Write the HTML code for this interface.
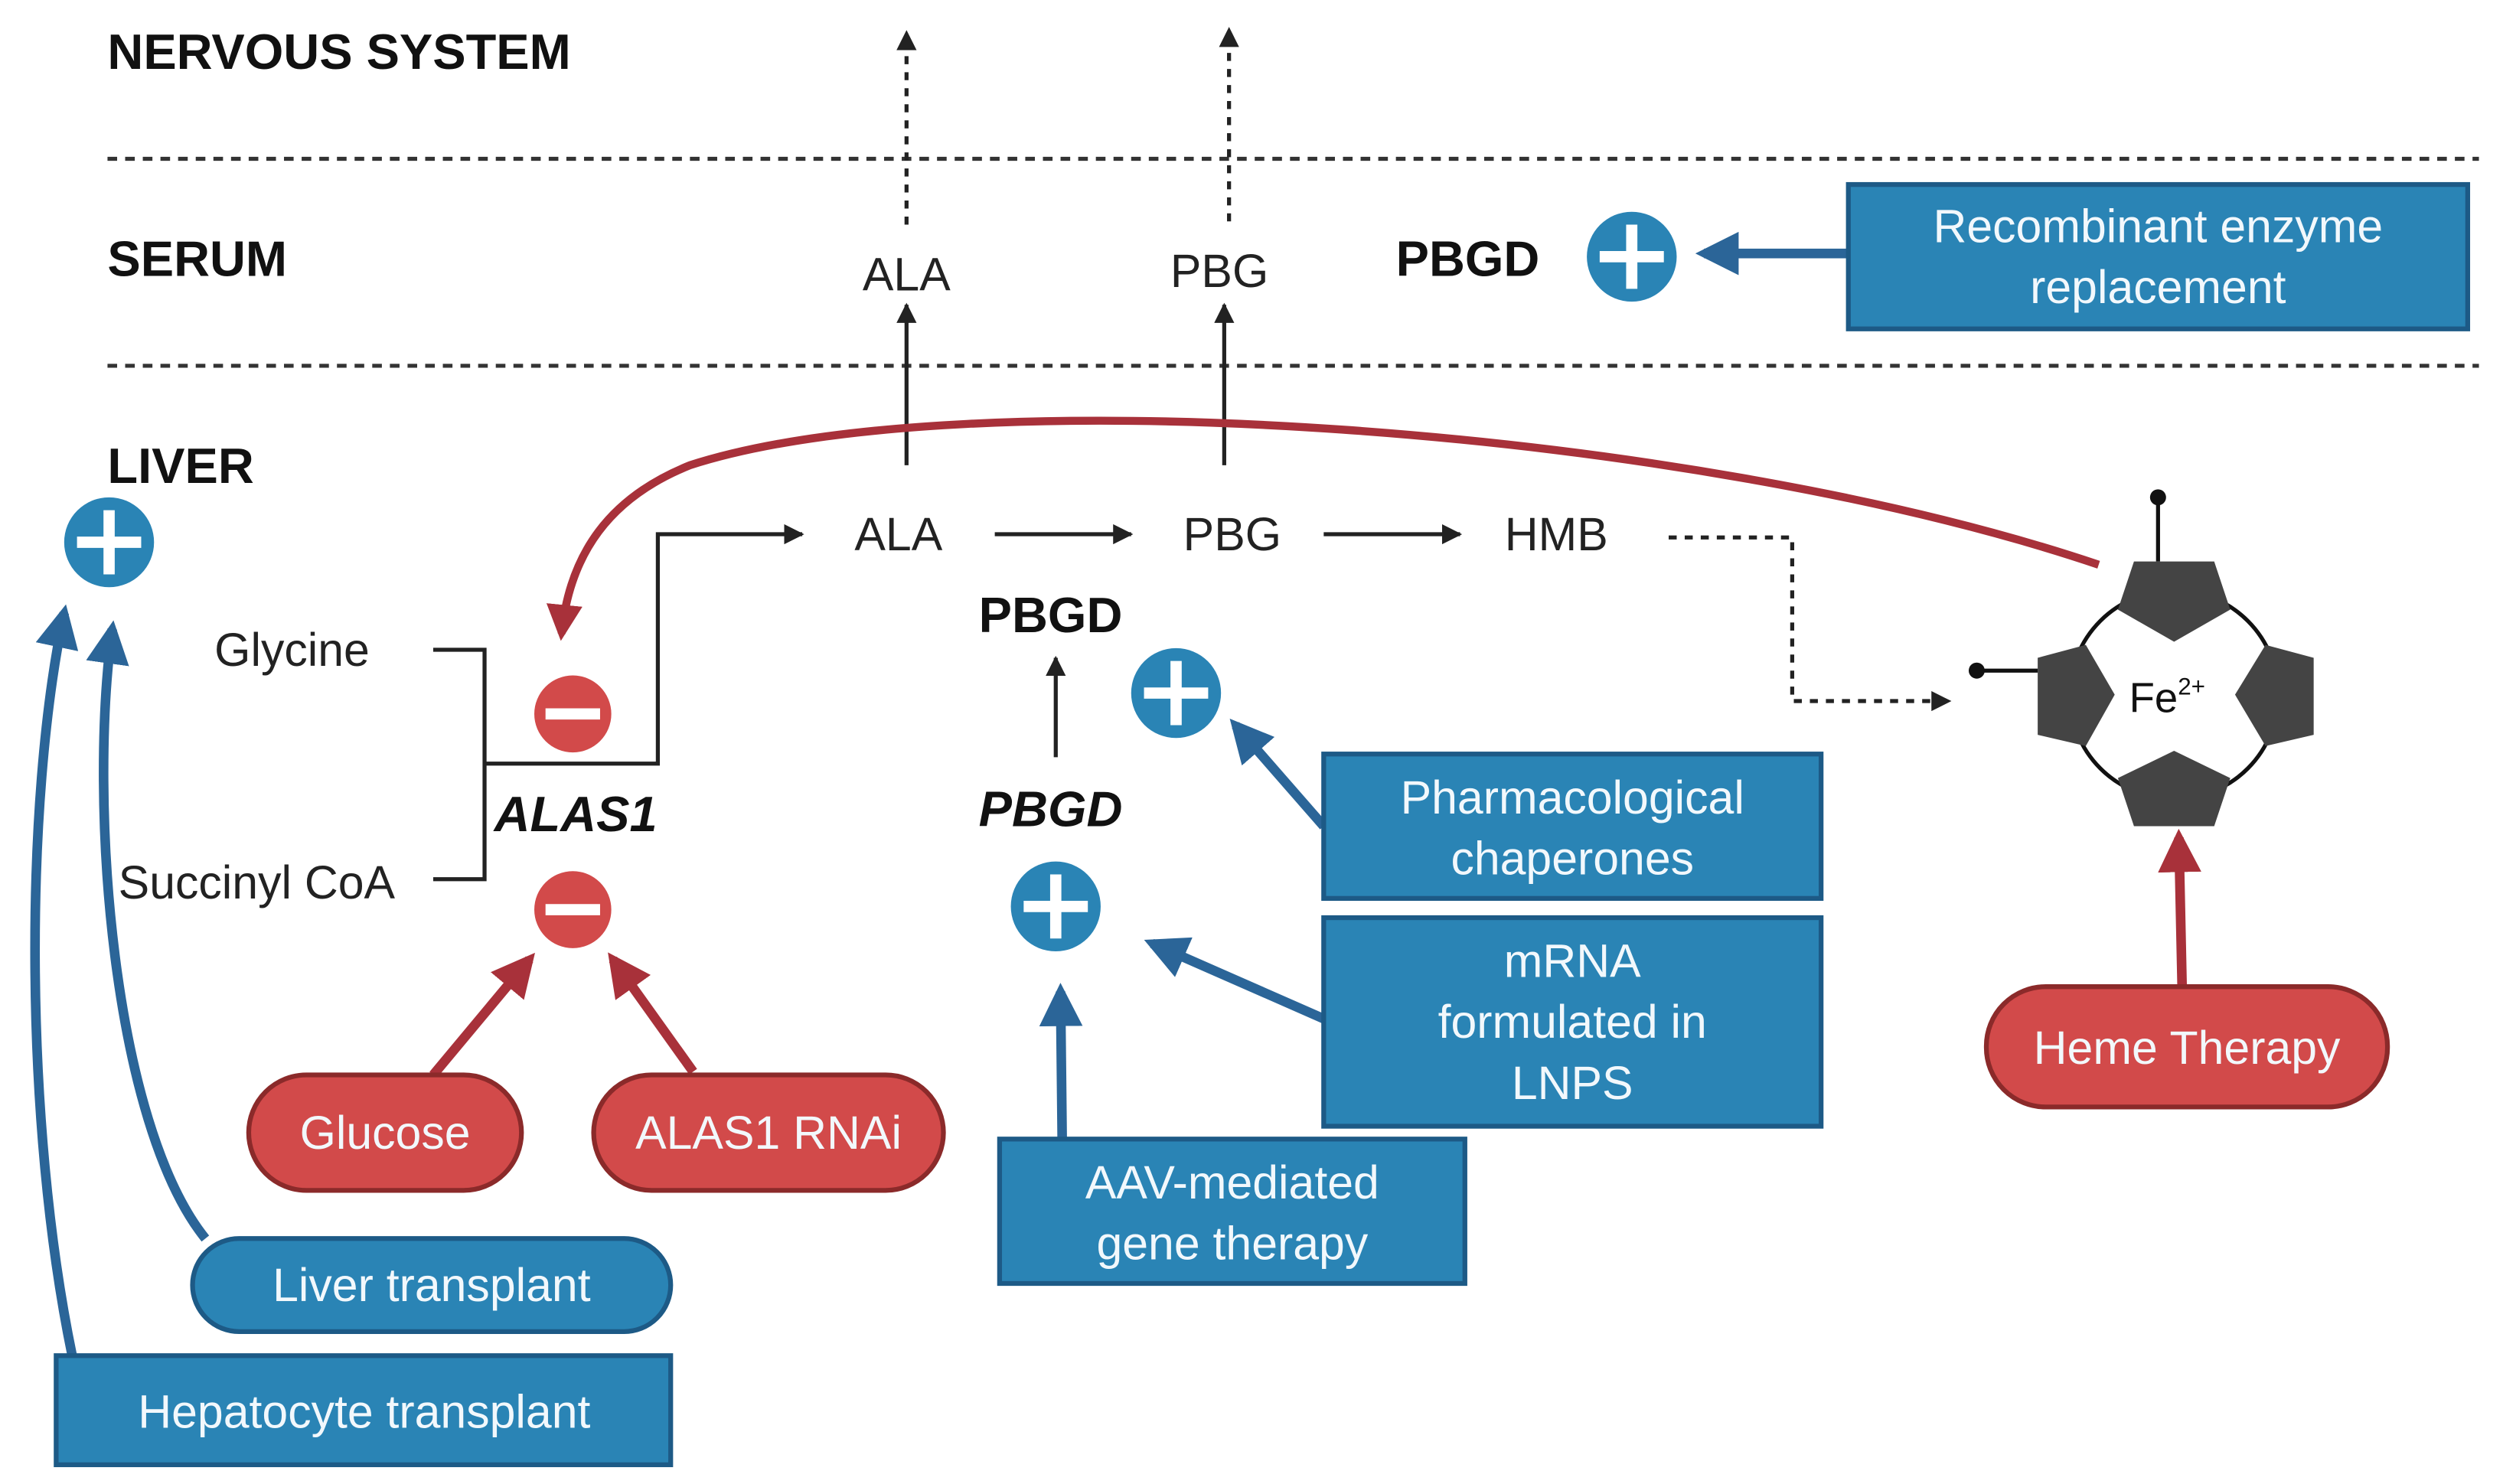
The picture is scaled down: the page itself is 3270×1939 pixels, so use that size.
<!DOCTYPE html>
<html><head><meta charset="utf-8"><style>
html,body{margin:0;padding:0;background:#fff;}
svg{display:block;}
text{font-family:"Liberation Sans",sans-serif;}
</style></head><body>
<svg width="3270" height="1939" viewBox="0 0 1560 925" preserveAspectRatio="none" xmlns="http://www.w3.org/2000/svg">
<defs>
<marker id="ak" viewBox="0 0 10 10" refX="9" refY="5" markerWidth="5" markerHeight="5" orient="auto"><path d="M0,0L10,5L0,10z" fill="#222"/></marker>
<marker id="ab" viewBox="0 0 10 10" refX="8" refY="5" markerWidth="4.5" markerHeight="4.5" orient="auto"><path d="M0,0L10,5L0,10z" fill="#2b6598"/></marker>
<marker id="ar" viewBox="0 0 10 10" refX="8" refY="5" markerWidth="4.5" markerHeight="4.5" orient="auto"><path d="M0,0L10,5L0,10z" fill="#a8313a"/></marker>
</defs>
<rect width="1560" height="925" fill="#fff"/>
<g font-weight="bold" font-size="31" fill="#111">
<text x="67" y="43">NERVOUS SYSTEM</text>
<text x="67" y="172">SERUM</text>
<text x="67" y="301">LIVER</text>
<text x="870" y="172">PBGD</text>
<text x="610" y="394">PBGD</text>
<text x="610" y="515" font-style="italic">PBGD</text>
<text x="308" y="518" font-style="italic">ALAS1</text>
</g>
<g stroke="#333" stroke-width="2.5" stroke-dasharray="6,5"><line x1="67" y1="99" x2="1545" y2="99"/><line x1="67" y1="228" x2="1545" y2="228"/></g>
<g font-size="29" fill="#222" text-anchor="middle">
<text x="565" y="181">ALA</text><text x="760" y="179">PBG</text>
<text x="560" y="343">ALA</text><text x="768" y="343">PBG</text><text x="970" y="343">HMB</text>
<text x="182" y="415">Glycine</text><text x="160" y="560">Succinyl CoA</text>
</g>
<g stroke="#222" stroke-width="2.5" fill="none">
<line x1="565" y1="140" x2="565" y2="20" stroke-dasharray="5,5" marker-end="url(#ak)"/>
<line x1="766" y1="138" x2="766" y2="18" stroke-dasharray="5,5" marker-end="url(#ak)"/>
<line x1="565" y1="290" x2="565" y2="190" marker-end="url(#ak)"/>
<line x1="763" y1="290" x2="763" y2="190" marker-end="url(#ak)"/>
<path d="M270,405H302V548H270M302,476H410V333H500" marker-end="url(#ak)"/>
<line x1="620" y1="333" x2="705" y2="333" marker-end="url(#ak)"/>
<line x1="825" y1="333" x2="910" y2="333" marker-end="url(#ak)"/>
<path d="M1040,335H1117V437H1215" stroke-dasharray="5,5" marker-end="url(#ak)"/>
<line x1="658" y1="472" x2="658" y2="410" marker-end="url(#ak)"/>
</g>
<path d="M1308,352 C1050,265 600,235 430,290 C380,310 355,345 350,395" stroke="#a8313a" stroke-width="5" fill="none" marker-end="url(#ar)"/>
<g>
<circle cx="1355" cy="433" r="65" fill="none" stroke="#111" stroke-width="2.5"/>
<line x1="1345" y1="310" x2="1345" y2="350" stroke="#111" stroke-width="2.5"/><circle cx="1345" cy="310" r="5" fill="#111"/>
<line x1="1232" y1="418" x2="1270" y2="418" stroke="#111" stroke-width="2.5"/><circle cx="1232" cy="418" r="5" fill="#111"/>
<path d="M1330,350H1380L1390,380L1355,400L1320,380Z" fill="#444"/>
<path d="M1330,515H1380L1390,485L1355,468L1320,485Z" fill="#444"/>
<path d="M1270,410V458L1300,465L1318,433L1300,402Z" fill="#444"/>
<path d="M1442,410V458L1412,465L1393,433L1412,402Z" fill="#444"/>
<text x="1327" y="444" font-size="26" fill="#111">Fe<tspan font-size="15" dy="-11">2+</tspan></text>
</g>
<g fill="#2a84b5"><circle cx="1017" cy="160" r="28"/><circle cx="68" cy="338" r="28"/><circle cx="733" cy="432" r="28"/><circle cx="658" cy="565" r="28"/></g>
<g stroke="#fff" stroke-width="7"><path d="M997,160h40M1017,140v40M48,338h40M68,318v40M713,432h40M733,412v40M638,565h40M658,545v40"/></g>
<g fill="#d24a4a"><circle cx="357" cy="445" r="24"/><circle cx="357" cy="567" r="24"/></g>
<g stroke="#fff" stroke-width="7"><path d="M340,445h34M340,567h34"/></g>
<g stroke="#2b6598" stroke-width="6" fill="none" marker-end="url(#ab)">
<line x1="1152" y1="158" x2="1062" y2="158"/>
<line x1="825" y1="515" x2="770" y2="452"/>
<line x1="825" y1="635" x2="718" y2="588"/>
<line x1="662" y1="710" x2="661" y2="618"/>
<path d="M128,772 C70,700 55,500 70,392"/>
<path d="M45,845 C15,700 15,500 40,382"/>
</g>
<g stroke="#a8313a" stroke-width="6" fill="none" marker-end="url(#ar)">
<line x1="270" y1="670" x2="330" y2="598"/>
<line x1="432" y1="668" x2="382" y2="598"/>
<line x1="1360" y1="615" x2="1358" y2="522"/>
</g>
<g fill="#2a84b5" stroke="#1d5a86" stroke-width="3">
<rect x="1152" y="115" width="386" height="90"/>
<rect x="825" y="470" width="310" height="90"/>
<rect x="825" y="572" width="310" height="130"/>
<rect x="623" y="710" width="290" height="90"/>
<rect x="120" y="772" width="298" height="58" rx="29"/>
<rect x="35" y="845" width="383" height="68"/>
</g>
<g fill="#d24a4a" stroke="#8b2a2a" stroke-width="3">
<rect x="155" y="670" width="170" height="72" rx="36"/>
<rect x="370" y="670" width="218" height="72" rx="36"/>
<rect x="1238" y="615" width="250" height="75" rx="37"/>
</g>
<g font-size="29" fill="#f2f8fc" text-anchor="middle">
<text x="1345" y="151">Recombinant enzyme</text><text x="1345" y="189">replacement</text>
<text x="980" y="507">Pharmacological</text><text x="980" y="545">chaperones</text>
<text x="980" y="609">mRNA</text><text x="980" y="647">formulated in</text><text x="980" y="685">LNPS</text>
<text x="768" y="747">AAV-mediated</text><text x="768" y="785">gene therapy</text>
<text x="269" y="811">Liver transplant</text>
<text x="227" y="890">Hepatocyte transplant</text>
<text x="240" y="716">Glucose</text>
<text x="479" y="716">ALAS1 RNAi</text>
<text x="1363" y="663">Heme Therapy</text>
</g>
</svg>
</body></html>
